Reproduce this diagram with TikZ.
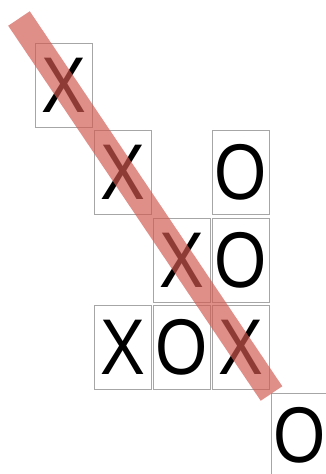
\documentclass[tikz,border=0pt]{standalone}
\usepackage{fontspec}
\setmainfont{Liberation Sans}
\newfontfamily\markfamily[FakeStretch=0.85]{Liberation Sans}
\usepackage{xcolor}
\usepackage{tikz}
\definecolor{strikered}{RGB}{210,88,80}
\newcommand{\markfont}{\markfamily\fontsize{79}{84}\selectfont}
\tikzset{
  ttcell/.style={draw=black!35, line width=1pt, minimum width=57pt, minimum height=84pt, inner sep=0pt, font=\markfont},
  ttstrike/.style={line width=26pt, draw=strikered, draw opacity=0.68, line cap=butt},
}

\begin{document}
\begin{tikzpicture}[x=1pt,y=-1pt]
\useasboundingbox (0,0) rectangle (326,474);
\node[ttcell] (x0) at (63.5,85) {X};
\node[ttcell] (x1) at (122.5,172.5) {X};
\node[ttcell] (o1) at (240.5,172.5) {O};
\node[ttcell] (x2) at (181.5,260) {X};
\node[ttcell] (o2) at (240.5,260) {O};
\node[ttcell] (x3a) at (122.5,347.5) {X};
\node[ttcell] (o3) at (181.5,347.5) {O};
\node[ttcell] (x3) at (240.5,347.5) {X};
\node[ttcell] (o4) at (299.5,435) {O};
\coordinate (strikeA) at (19,18.5);
\coordinate (strikeB) at (271.5,393.5);
\draw[ttstrike] (strikeA) -- (strikeB);
\end{tikzpicture}
\end{document}
